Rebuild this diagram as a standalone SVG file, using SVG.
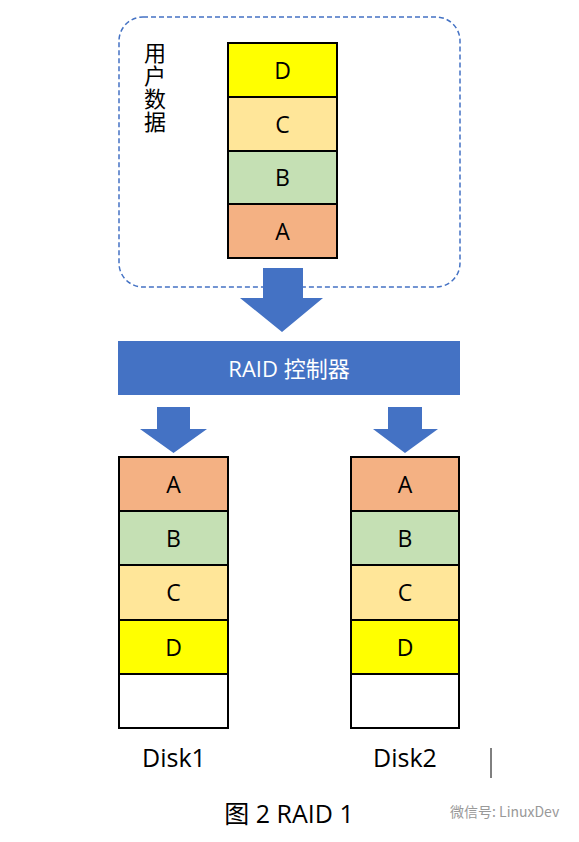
<svg xmlns="http://www.w3.org/2000/svg" width="579" height="842" viewBox="0 0 579 842">
<style>
.blk{stroke:#000;stroke-width:2}
.a{fill:#F4B183}.b{fill:#C5E0B4}.c{fill:#FFE699}.d{fill:#FFFF00}.e{fill:#FFFFFF}
.t{font-family:"Open Sans","Noto Sans","Noto Sans CJK SC",sans-serif;font-size:23px;fill:#000;text-anchor:middle;dominant-baseline:central}
.arr{fill:#4472C4}
.dl{font-family:"Open Sans",sans-serif;font-size:25px;fill:#000;text-anchor:middle}
</style>
<rect width="579" height="842" fill="#fff"/>
<g id="user-data">
<rect x="119" y="17" width="341" height="270" rx="24" fill="none" stroke="#4472C4" stroke-width="1.5" stroke-dasharray="5,3"/>
<text x="155" y="42" style="writing-mode:vertical-rl" letter-spacing="1" font-family="'Noto Sans CJK SC',sans-serif" font-size="22" fill="#000">用户数据</text>
</g>
<g id="stack-top">
<rect class="blk d" x="228" y="43" width="109" height="54"/>
<rect class="blk c" x="228" y="97" width="109" height="54"/>
<rect class="blk b" x="228" y="151" width="109" height="53"/>
<rect class="blk a" x="228" y="204" width="109" height="54"/>
<text class="t" x="282.5" y="70">D</text>
<text class="t" x="282.5" y="124">C</text>
<text class="t" x="282.5" y="177">B</text>
<text class="t" x="282.5" y="231">A</text>
</g>
<g id="raid-controller">
<rect x="118" y="341" width="342" height="54" fill="#4472C4"/>
<text x="289" y="368" font-family="'Open Sans','Noto Sans CJK SC',sans-serif" font-size="22" fill="#fff" text-anchor="middle" dominant-baseline="central">RAID 控制器</text>
</g>
<g id="connectors">
<polygon class="arr" points="263,268 303,268 303,298 323,298 282,332 240,298 263,298"/>
<polygon class="arr" points="157,407 190,407 190,429 207,429 173.5,453 140,429 157,429"/>
<polygon class="arr" points="388,407 422,407 422,429 438,429 405,453 373,429 388,429"/>
</g>
<g id="disk1">
<rect class="blk a" x="119" y="457" width="109" height="54"/>
<rect class="blk b" x="119" y="511" width="109" height="54"/>
<rect class="blk c" x="119" y="565" width="109" height="55"/>
<rect class="blk d" x="119" y="620" width="109" height="54"/>
<rect class="blk e" x="119" y="674" width="109" height="54"/>
<text class="t" x="173.5" y="484">A</text>
<text class="t" x="173.5" y="538">B</text>
<text class="t" x="173.5" y="592">C</text>
<text class="t" x="173.5" y="647">D</text>
<text class="dl" x="174" y="767">Disk1</text>
</g>
<g id="disk2">
<rect class="blk a" x="351" y="457" width="108" height="54"/>
<rect class="blk b" x="351" y="511" width="108" height="54"/>
<rect class="blk c" x="351" y="565" width="108" height="55"/>
<rect class="blk d" x="351" y="620" width="108" height="54"/>
<rect class="blk e" x="351" y="674" width="108" height="54"/>
<text class="t" x="405" y="484">A</text>
<text class="t" x="405" y="538">B</text>
<text class="t" x="405" y="592">C</text>
<text class="t" x="405" y="647">D</text>
<text class="dl" x="405" y="767">Disk2</text>
</g>
<line x1="491" y1="748" x2="491" y2="778" stroke="#000" stroke-width="1"/>
<text x="289" y="823" font-family="'Open Sans','Noto Sans CJK SC',sans-serif" font-size="25" fill="#000" text-anchor="middle">图 2 RAID 1</text>
<text x="450" y="817" font-family="'Noto Sans CJK SC',sans-serif" font-size="14" fill="#999">微信号: LinuxDev</text>
</svg>
